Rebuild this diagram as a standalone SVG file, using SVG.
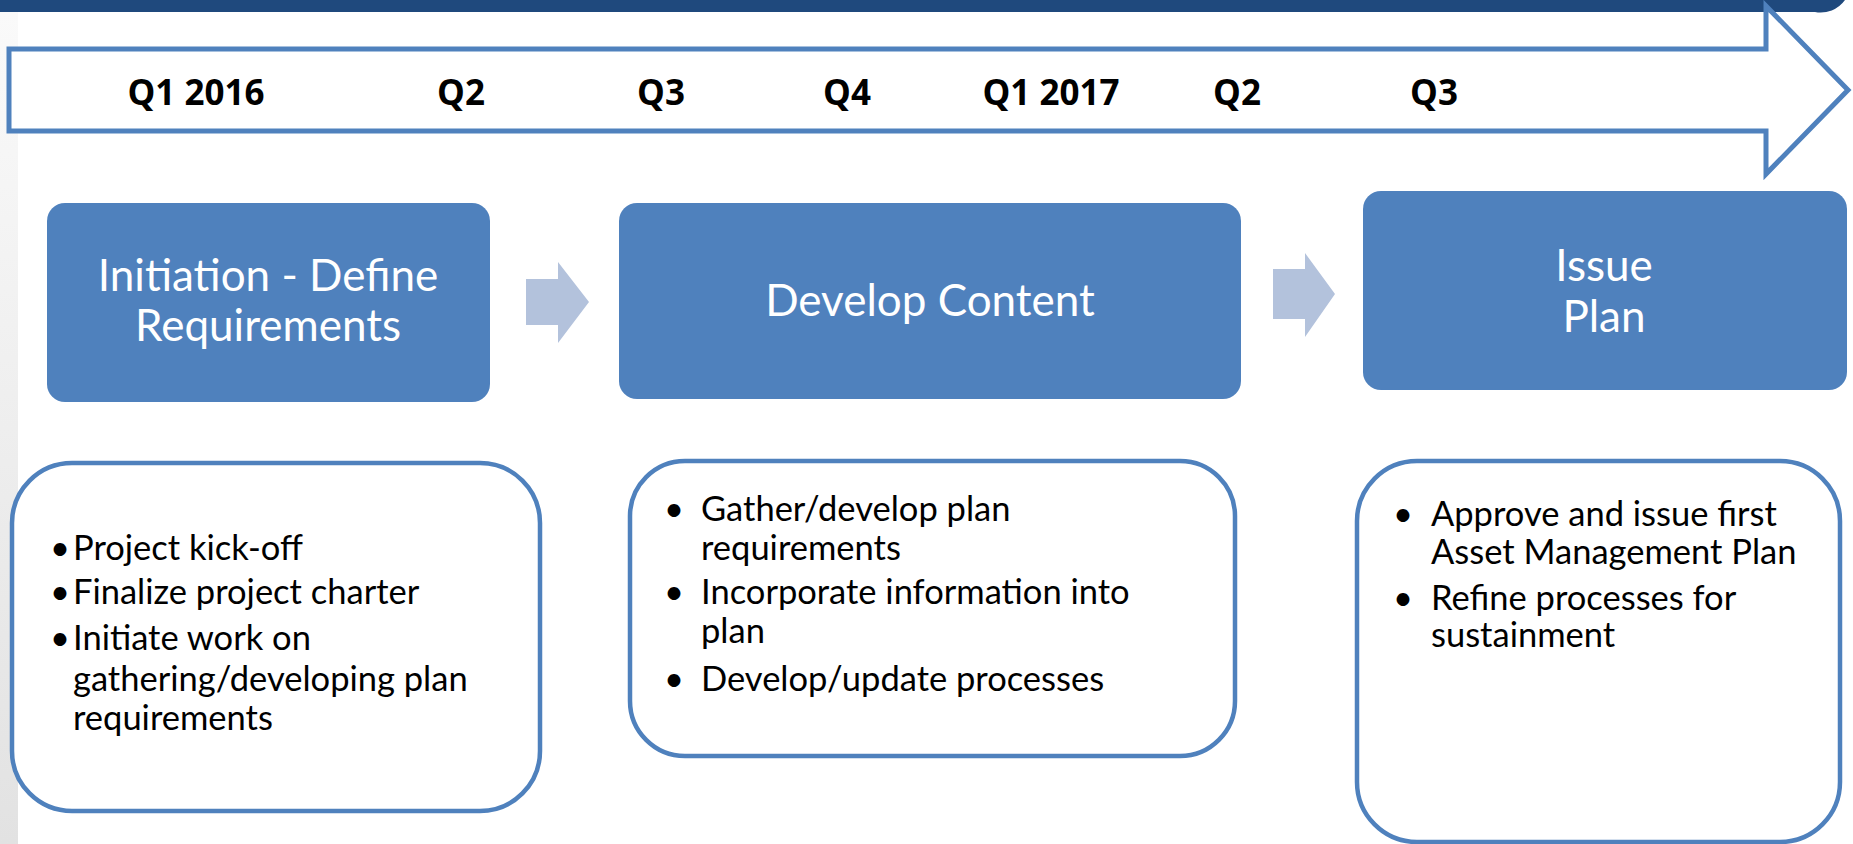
<svg xmlns="http://www.w3.org/2000/svg" width="1853" height="844" viewBox="0 0 1853 844">
<defs>
<linearGradient id="strip" x1="0" y1="0" x2="0" y2="1">
<stop offset="0" stop-color="#fafafa"/>
<stop offset="1" stop-color="#e2e2e2"/>
</linearGradient>
<style>
.q{font-family:"Open Sans","Liberation Sans",sans-serif;font-weight:bold;font-size:35px;fill:#000;text-anchor:middle}
.phase{fill:#4F81BD}
.pt{font-family:Lato,"Liberation Sans",sans-serif;font-size:44px;fill:#fff;text-anchor:middle}
.card{fill:#fff;stroke:#4F81BD;stroke-width:4.5}
.bt{font-family:Lato,"Liberation Sans",sans-serif;font-size:34.5px;fill:#000}
.conn{fill:#B3C2DC}
</style>
</defs>
<rect x="0" y="0" width="1853" height="844" fill="#fff"/>
<rect x="0" y="12" width="18" height="832" fill="url(#strip)"/>
<path d="M0 0 H1845 A30 30 0 0 1 1815 12 H0 Z" fill="#1F497D"/>

<g id="timeline">
<polygon points="9,49 1766,49 1766,6 1848,90 1766,174 1766,131 9,131" fill="#fff" stroke="#4F81BD" stroke-width="5"/>
<text class="q" x="196" y="105">Q1 2016</text>
<text class="q" x="461" y="105">Q2</text>
<text class="q" x="661" y="105">Q3</text>
<text class="q" x="847" y="105">Q4</text>
<text class="q" x="1051" y="105">Q1 2017</text>
<text class="q" x="1237" y="105">Q2</text>
<text class="q" x="1434" y="105">Q3</text>
</g>

<g id="connectors">
<polygon class="conn" points="526,279 558,279 558,262 589,302 558,343 558,325 526,325"/>
<polygon class="conn" points="1273,269 1305,269 1305,253 1335,294 1305,337 1305,319 1273,319"/>
</g>

<g id="phase-initiation">
<rect class="phase" x="47" y="203" width="443" height="199" rx="18"/>
<text class="pt" x="268" y="291">Initiation - Define</text>
<text class="pt" x="268" y="341">Requirements</text>
</g>

<g id="phase-develop">
<rect class="phase" x="619" y="203" width="622" height="196" rx="18"/>
<text class="pt" x="930" y="316">Develop Content</text>
</g>

<g id="phase-issue">
<rect class="phase" x="1363" y="191" width="484" height="199" rx="18"/>
<text class="pt" x="1604" y="281">Issue</text>
<text class="pt" x="1604" y="332">Plan</text>
</g>

<g id="tasks-initiation">
<rect class="card" x="12" y="463" width="528" height="348" rx="60"/>
<text class="bt" x="50" y="560">•</text><text class="bt" x="73" y="560">Project kick-off</text>
<text class="bt" x="50" y="604">•</text><text class="bt" x="73" y="604">Finalize project charter</text>
<text class="bt" x="50" y="650">•</text><text class="bt" x="73" y="650">Initiate work on</text>
<text class="bt" x="73" y="691">gathering/developing plan</text>
<text class="bt" x="73" y="730">requirements</text>
</g>

<g id="tasks-develop">
<rect class="card" x="630" y="461" width="605" height="295" rx="55"/>
<text class="bt" x="664" y="521">•</text><text class="bt" x="701" y="521">Gather/develop plan</text>
<text class="bt" x="701" y="560">requirements</text>
<text class="bt" x="664" y="604">•</text><text class="bt" x="701" y="604">Incorporate information into</text>
<text class="bt" x="701" y="643">plan</text>
<text class="bt" x="664" y="691">•</text><text class="bt" x="701" y="691">Develop/update processes</text>
</g>

<g id="tasks-issue">
<rect class="card" x="1357" y="461" width="483" height="381" rx="60"/>
<text class="bt" x="1393" y="526">•</text><text class="bt" x="1431" y="526">Approve and issue first</text>
<text class="bt" x="1431" y="564">Asset Management Plan</text>
<text class="bt" x="1393" y="610">•</text><text class="bt" x="1431" y="610">Refine processes for</text>
<text class="bt" x="1431" y="647">sustainment</text>
</g>
</svg>
